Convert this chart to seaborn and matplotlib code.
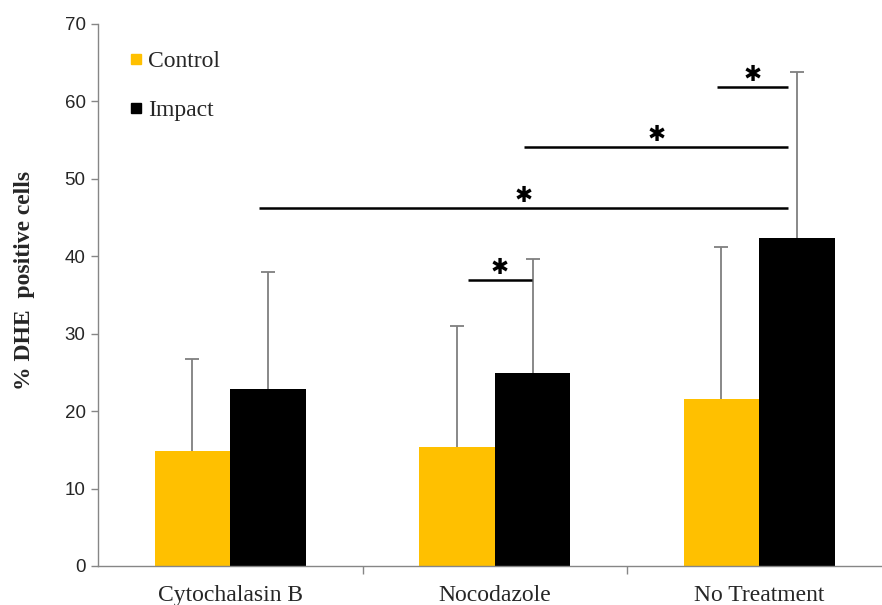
import matplotlib
matplotlib.use("Agg")
import matplotlib.pyplot as plt
import seaborn as sns
import pandas as pd
import numpy as np
from matplotlib.lines import Line2D

categories = ["Cytochalasin B", "Nocodazole", "No Treatment"]
groups = ["Control", "Impact"]
control_vals = [14.9, 15.4, 21.6]
impact_vals = [22.8, 24.9, 42.4]
control_err = [11.8, 15.6, 19.6]
impact_err = [15.2, 14.8, 21.4]
y_ticks = [0, 10, 20, 30, 40, 50, 60, 70]
# significance brackets: (x_start, x_end, height)
sig_lines = [(0.90, 1.14, 36.9), (1.84, 2.11, 61.9), (1.11, 2.11, 54.1), (0.11, 2.11, 46.3)]

colors = {"Control": "#FFC000", "Impact": "#000000"}

df = pd.DataFrame({
    "cat": categories * 2,
    "grp": ["Control"] * 3 + ["Impact"] * 3,
    "val": control_vals + impact_vals,
})

sns.set_theme(style="white")
plt.rcParams["font.family"] = ["Liberation Serif", "DejaVu Sans"]

fig = plt.figure(figsize=(8.82, 6.05), dpi=100)
ax = fig.add_axes([98 / 882, 39 / 605, 784 / 882, 542 / 605])

sns.barplot(data=df, x="cat", y="val", hue="grp", order=categories,
            hue_order=groups, palette=colors, width=0.571, errorbar=None,
            saturation=1, ax=ax, legend=False, linewidth=0)

# error bars (upper only) located from bar patches
bars = [p for p in ax.patches]
errs = control_err + impact_err
vals = control_vals + impact_vals
for p, v, e in zip(bars, vals, errs):
    xc = p.get_x() + p.get_width() / 2
    _, caps, _ = ax.errorbar([xc], [v], yerr=[[0], [e]], fmt="none", ecolor="#7f7f7f",
                             elinewidth=1.3, capsize=5, capthick=1.3, zorder=3)
    caps[0].set_visible(False)

for x0, x1, h in sig_lines:
    ax.plot([x0, x1], [h, h], color="black", lw=1.8, solid_capstyle="butt", zorder=4)
    ax.text((x0 + x1) / 2, h + 1.55, "\u2731", ha="center", va="center",
            fontsize=15.5, fontweight="bold", family="DejaVu Sans", color="black")

ax.set_xlim(-0.5, -0.5 + 784 / 264.5)
ax.set_ylim(0, 70)
ax.set_yticks(y_ticks)
ax.set_yticklabels([str(t) for t in y_ticks], family="Liberation Sans", fontsize=13.5)
ax.set_xticks([0, 1, 2])
ax.set_xticklabels(categories, fontsize=17)
ax.tick_params(axis="x", length=0, pad=14)
ax.tick_params(axis="y", length=5, width=1, color="#868686", left=True, pad=4)
# minor ticks at group boundaries
ax.set_xticks([0.5, 1.5], minor=True)
ax.tick_params(axis="x", which="minor", length=6, width=1, color="#868686", bottom=True)

for s in ["top", "right"]:
    ax.spines[s].set_visible(False)
for s in ["left", "bottom"]:
    ax.spines[s].set_color("#868686")
    ax.spines[s].set_linewidth(1)

ax.set_xlabel("")
ax.set_ylabel("% DHE  positive cells", fontsize=17, fontweight="bold")
ax.yaxis.set_label_coords(-0.0805, 0.526)

handles = [Line2D([0], [0], marker="s", color="w", markerfacecolor=colors[g],
                  markeredgecolor=colors[g], markersize=7.5, linestyle="none") for g in groups]
ax.legend(handles, groups, loc="upper left", bbox_to_anchor=(0.0276, 0.968), frameon=False,
          fontsize=17, handlelength=0.6, handletextpad=0.2, labelspacing=1.17,
          borderaxespad=0)

fig.savefig("out.png", dpi=100)
